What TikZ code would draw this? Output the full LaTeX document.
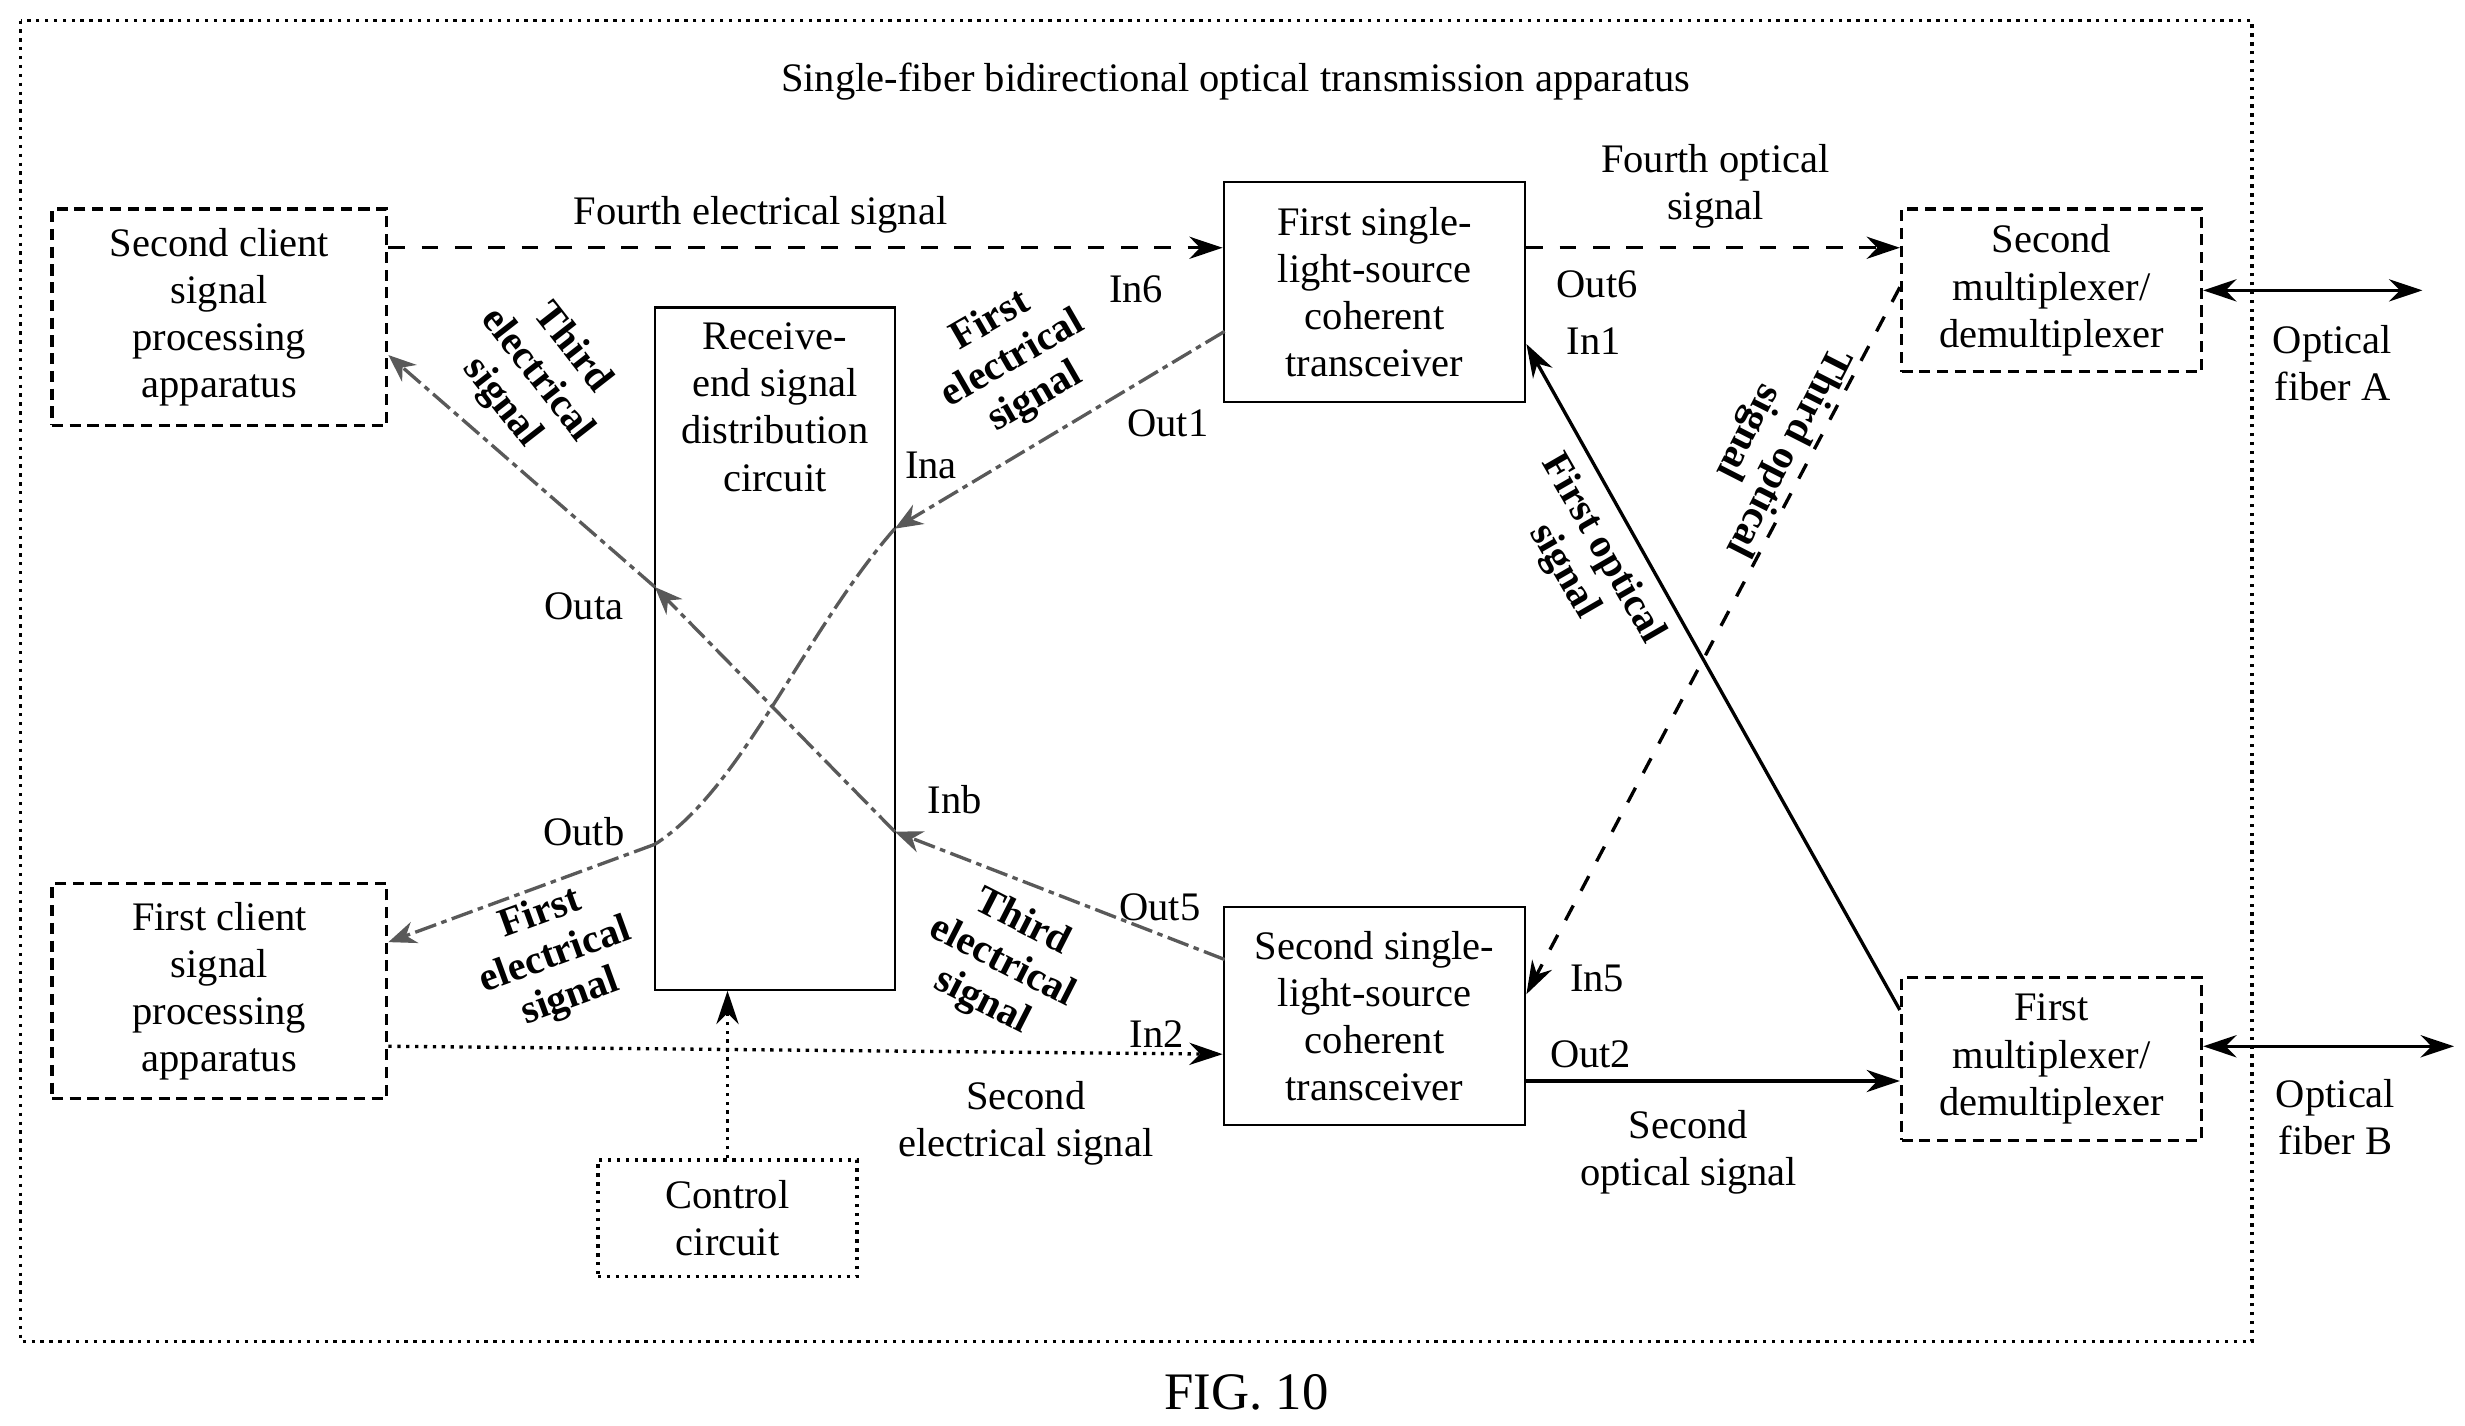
\documentclass[tikz,border=0pt]{standalone}
\usepackage{fontspec}
\setmainfont{Liberation Serif}
\usetikzlibrary{arrows.meta}
\begin{document}
\begin{tikzpicture}[x=0.01cm,y=-0.01cm,font=\fontsize{7.3}{8.5}\selectfont,
 box/.style={draw,semithick,align=center,inner sep=0pt},
 dbox/.style={box,dash pattern=on 2pt off 1.2pt},
 tbox/.style={box,densely dotted},
 lab/.style={align=center,inner sep=1pt},
 blab/.style={lab,font=\fontsize{7.3}{8}\selectfont\bfseries},
 el/.style={gray!70!black,semithick,dash pattern=on 4pt off 1pt on 1pt off 1pt,-{Stealth[length=5pt,width=4pt]}},
 ar/.style={semithick,-{Stealth[length=6pt,width=4pt]}}]
\useasboundingbox (0,0) rectangle (1562,903);
\draw[densely dotted,semithick] (13,13) rectangle (1427,850);
\node at (783,52) {Single-fiber bidirectional optical transmission apparatus};
\node at (790,882) {\fontsize{9.5}{11}\selectfont FIG. 10};
\node[dbox,minimum width=2.12cm,minimum height=1.37cm] (sc2) at (139,201) {Second client\\signal\\processing\\apparatus};
\node[dbox,minimum width=2.12cm,minimum height=1.36cm] (sc1) at (139,628) {First client\\signal\\processing\\apparatus};
\node[draw,thin,minimum width=1.52cm,minimum height=4.32cm] (rx) at (491,411) {};
\node[align=center] at (491,258) {Receive-\\end signal\\distribution\\circuit};
\node[tbox,minimum width=1.64cm,minimum height=0.74cm] (cc) at (461,772) {Control\\circuit};
\node[box,thin,minimum width=1.91cm,minimum height=1.39cm] (t1) at (871,185) {First single-\\light-source\\coherent\\transceiver};
\node[box,thin,minimum width=1.91cm,minimum height=1.38cm] (t2) at (871,644) {Second single-\\light-source\\coherent\\transceiver};
\node[dbox,minimum width=1.9cm,minimum height=1.03cm] (m2) at (1300,184) {Second\\multiplexer/\\demultiplexer};
\node[dbox,minimum width=1.9cm,minimum height=1.03cm] (m1) at (1300,671) {First\\multiplexer/\\demultiplexer};
\coordinate (fa) at (1535,184); \coordinate (fb) at (1555,663);
\draw[ar,dashed] (sc2.east|-0,157) -- (t1.west|-0,157);
\node[lab] at (482,136) {Fourth electrical signal};
\draw[ar,dashed] (t1.east|-0,157) -- (m2.west|-0,157);
\node[lab] at (1087,118) {Fourth optical\\signal};
\draw[semithick,{Stealth[length=6pt,width=4pt]}-{Stealth[length=6pt,width=4pt]}] (m2.east) -- (fa);
\node[lab] at (1478,230) {Optical\\fiber A};
\draw[semithick,{Stealth[length=6pt,width=4pt]}-{Stealth[length=6pt,width=4pt]}] (m1.east|-0,663) -- (fb);
\node[lab] at (1480,708) {Optical\\fiber B};
\draw[ar] (t2.east|-0,685) -- (m1.west|-0,685);
\node[lab] at (1070,730) {Second\\optical signal};
\draw[ar,densely dotted] (sc1.east|-0,663) -- (t2.west|-0,668);
\node[lab] at (650,712) {Second\\electrical signal};
\draw[ar,densely dotted] (cc.north) -- (rx.south-|cc.north);
\coordinate (t1o) at (776,210); \coordinate (ina) at (567,335);
\coordinate (outb) at (415,535);
\draw[el] (t1o) -- (ina);
\draw[el,-] (ina) .. controls (510,400) and (470,500) .. (outb);
\draw[el] (outb) -- (sc1.east|-0,597);
\coordinate (t2o) at (776,608); \coordinate (inb) at (567,527);
\coordinate (outa) at (415,372);
\draw[el] (t2o) -- (inb);
\draw[el] (inb) -- (outa);
\draw[el] (outa) -- (sc2.east|-0,225);
\draw[ar] (m1.west|-0,640) -- (t1.east|-0,218);
\draw[ar,dashed] (m2.west|-0,182) -- (t2.east|-0,630);
\node[blab,rotate=30] at (642,228) {First\\electrical\\signal};
\node[blab,rotate=-52] at (340,238) {Third\\electrical\\signal};
\node[blab,rotate=20] at (352,606) {First\\electrical\\signal};
\node[blab,rotate=-27] at (635,610) {Third\\electrical\\signal};
\node[blab,rotate=-60] at (1003,355) {First optical\\signal};
\node[blab,rotate=-117] at (1120,280) {Third optical\\signal};
\node at (720,183) {In6}; \node at (1012,180) {Out6}; \node at (1010,216) {In1};
\node at (740,268) {Out1}; \node at (590,295) {Ina}; \node at (370,384) {Outa};
\node at (370,527) {Outb}; \node at (605,507) {Inb}; \node at (735,575) {Out5};
\node at (1012,620) {In5}; \node at (733,655) {In2}; \node at (1008,668) {Out2};
\end{tikzpicture}
\end{document}
